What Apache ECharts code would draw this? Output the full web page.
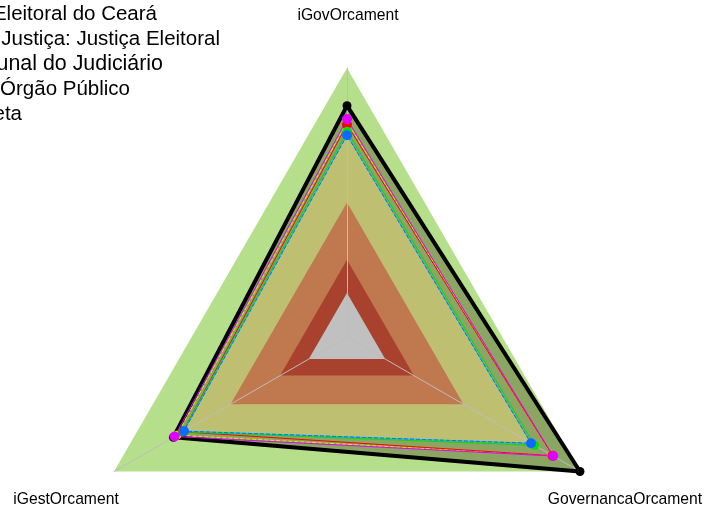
<!DOCTYPE html>
<html>
<head>
<meta charset="utf-8">
<script src="https://cdn.jsdelivr.net/npm/echarts@6/dist/echarts.min.js"></script>
<style>
html,body{margin:0;padding:0;background:#ffffff;}
#chart{width:708px;height:511px;}
</style>
</head>
<body>
<div id="chart"></div>
<script>
// Indicators in ECharts order (counter-clockwise from top)
const indicatorNames = ['iGovOrcament', 'iGestOrcament', 'GovernancaOrcament'];
const indicatorMax = [1, 1, 1];

// Background bands (uniform level on every axis)
const bandLevels = [1.0, 0.5, 0.287, 0.164];
const bandColors = ['#b6df8c', '#c0784e', '#a8422e', '#c0c0c0'];

// Series values [iGovOrcament, iGestOrcament, GovernancaOrcament]
const metaValues    = [0.86, 0.745, 1.0];
const magentaValues = [0.81, 0.74, 0.885];
const yellowValues  = [0.80, 0.73, 0.88];
const redValues     = [0.79, 0.705, 0.882];
const greenValues   = [0.765, 0.705, 0.805];
const cyanValues    = [0.752, 0.70, 0.79];
const blueValues    = [0.75, 0.70, 0.79];

// Legend texts (partly outside the canvas in the reference)
const legendTexts = [
  'Tribunal Regional Eleitoral do Ceará',
  'Ramo de Justiça: Justiça Eleitoral',
  'Média Tribunal do Judiciário',
  'Média do Órgão Público',
  'Meta'
];

const chart = echarts.init(document.getElementById('chart'), null, {renderer: 'canvas'});

function bandSeries(level, color) {
  return {
    type: 'radar', z: 1, silent: true, symbol: 'none',
    lineStyle: {width: 0, opacity: 0},
    areaStyle: {color: color, opacity: 1},
    data: [{value: indicatorNames.map(() => level)}]
  };
}
function fillSeries(values, color) {
  return {
    type: 'radar', z: 1, silent: true, symbol: 'none',
    lineStyle: {width: 0, opacity: 0},
    areaStyle: {color: color, opacity: 1},
    data: [{value: values}]
  };
}
function lineSeries(name, values, color, width, size, type) {
  return {
    type: 'radar', name: name, z: 3, symbol: 'circle', symbolSize: size,
    lineStyle: {width: width, color: color, type: type || 'solid'},
    itemStyle: {color: color},
    data: [{value: values, name: name}]
  };
}

const series = [
  bandSeries(bandLevels[0], bandColors[0]),
  fillSeries(metaValues, '#8ba563'),
  fillSeries(blueValues, '#bfbf72'),
  bandSeries(bandLevels[1], bandColors[1]),
  bandSeries(bandLevels[2], bandColors[2]),
  bandSeries(bandLevels[3], bandColors[3]),
  lineSeries(legendTexts[4], metaValues, '#000000', 4, 9),
  lineSeries('Série amarela', yellowValues, '#e8e800', 1, 9, 'dashed'),
  lineSeries(legendTexts[1], redValues, '#ff0000', 1, 10),
  lineSeries(legendTexts[2], greenValues, '#00e000', 1, 9),
  lineSeries(legendTexts[0], magentaValues, '#e000ff', 1, 10),
  lineSeries('Série ciano', cyanValues, '#00d0e0', 1, 9),
  lineSeries(legendTexts[3], blueValues, '#0a6cff', 1, 10, 'dashed')
];

const legendRight = [157, 220, 163, 130, 22];
const legendY = [14, 39, 64, 89, 114];
const legendSize = [20.5, 20.5, 21.4, 20.5, 20.5];
const graphics = legendTexts.map((t, i) => ({
  type: 'text', x: legendRight[i], y: legendY[i], z: 10,
  style: {text: t, fill: '#000', font: legendSize[i] + 'px "Liberation Sans", Arial, sans-serif',
          textAlign: 'right', textVerticalAlign: 'middle'}
}));
const axisLabelPos = [[348, 16], [66, 500], [625, 500]];
indicatorNames.forEach((n, i) => {
  graphics.push({
    type: 'text', x: axisLabelPos[i][0], y: axisLabelPos[i][1], z: 10,
    style: {text: n, fill: '#000', font: '15.7px "Liberation Sans", Arial, sans-serif',
            textAlign: 'center', textVerticalAlign: 'middle'}
  });
});

chart.setOption({
  animation: false,
  backgroundColor: '#ffffff',
  radar: {
    center: [347, 337],
    radius: 269,
    startAngle: 90,
    shape: 'polygon',
    splitNumber: 1,
    z: 2,
    indicator: indicatorNames.map((n, i) => ({name: n, min: 0, max: indicatorMax[i]})),
    axisName: {show: false},
    splitLine: {show: false},
    splitArea: {show: false},
    axisLine: {lineStyle: {color: '#bdbdbd', width: 1}}
  },
  graphic: graphics,
  series: series
});
</script>
</body>
</html>
